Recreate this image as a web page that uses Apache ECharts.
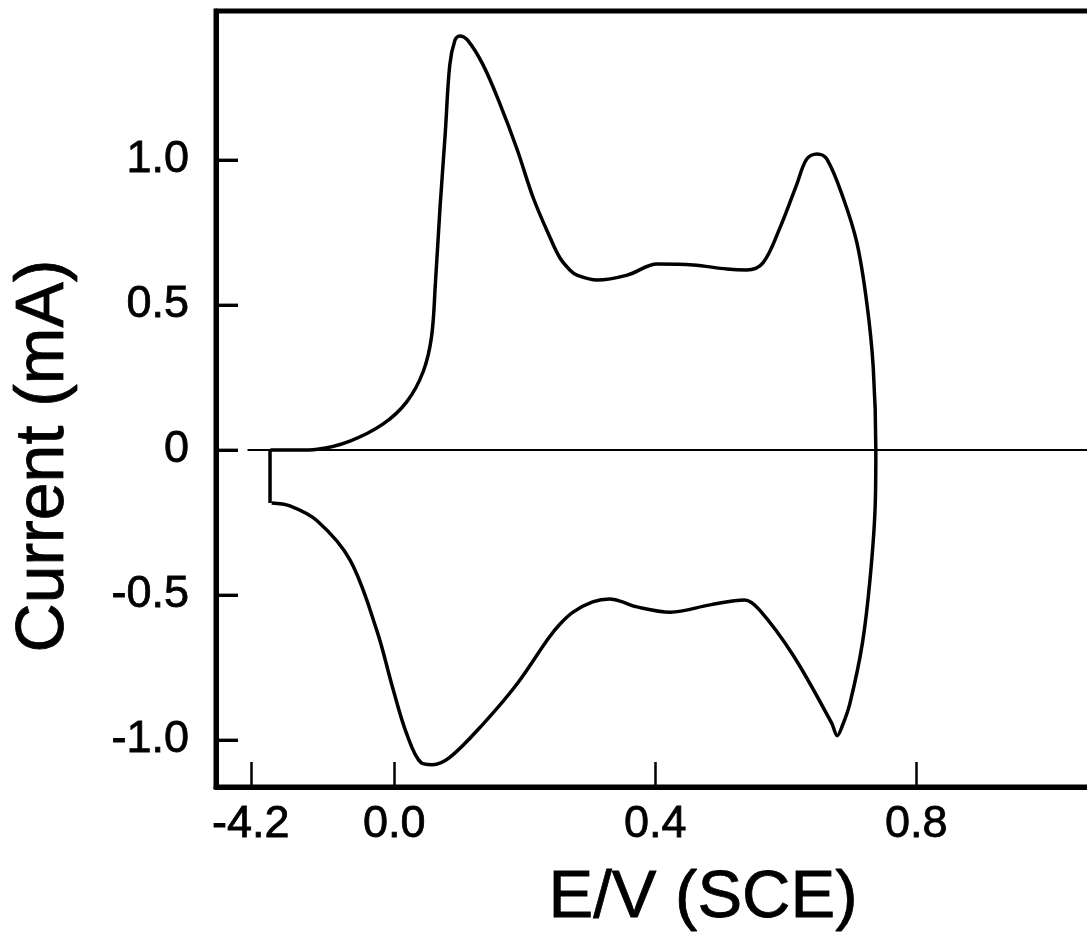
<!DOCTYPE html>
<html>
<head>
<meta charset="utf-8">
<script src="https://cdn.jsdelivr.net/npm/echarts@6/dist/echarts.min.js"></script>
<style>
  html, body { margin: 0; padding: 0; background: #ffffff; overflow: hidden; }
  #chart { width: 1087px; height: 943px; }
</style>
</head>
<body>
<div id="chart"></div>
<script>
// ---- data ----
const xTickValues = [-0.22, 0.0, 0.4, 0.8];
const xTickLabels = ['-4.2', '0.0', '0.4', '0.8'];
const yTickValues = [-1.0, -0.5, 0, 0.5, 1.0];
const yTickLabels = ['-1.0', '-0.5', '0', '0.5', '1.0'];

// anodic (forward) sweep: E (V) and current (mA)
const anodicE = [-0.190, -0.150, -0.118, -0.068, -0.017, 0.019, 0.044, 0.057, 0.063, 0.070, 0.078, 0.085, 0.093, 0.100, 0.112, 0.136, 0.162, 0.188, 0.213, 0.239, 0.254, 0.269, 0.280, 0.311, 0.357, 0.403, 0.458, 0.510, 0.540, 0.565, 0.591, 0.617, 0.632, 0.648, 0.663, 0.688, 0.709, 0.724, 0.734, 0.738];
const anodicI = [0.000, 0.000, 0.003, 0.031, 0.090, 0.166, 0.269, 0.390, 0.576, 0.834, 1.090, 1.328, 1.414, 1.428, 1.414, 1.328, 1.193, 1.038, 0.869, 0.731, 0.662, 0.621, 0.603, 0.586, 0.603, 0.641, 0.638, 0.624, 0.621, 0.645, 0.766, 0.917, 1.003, 1.021, 1.003, 0.869, 0.714, 0.510, 0.286, 0.000];

// cathodic (reverse) sweep
const cathodicE = [0.737, 0.729, 0.717, 0.698, 0.686, 0.679, 0.670, 0.611, 0.560, 0.537, 0.484, 0.423, 0.372, 0.346, 0.330, 0.304, 0.274, 0.254, 0.236, 0.188, 0.136, 0.085, 0.058, 0.041, 0.019, -0.002, -0.027, -0.068, -0.118, -0.160, -0.188];
const cathodicI = [-0.193, -0.448, -0.672, -0.876, -0.955, -0.985, -0.940, -0.707, -0.552, -0.517, -0.534, -0.559, -0.541, -0.521, -0.514, -0.524, -0.559, -0.600, -0.650, -0.807, -0.945, -1.060, -1.085, -1.078, -0.979, -0.824, -0.621, -0.379, -0.245, -0.193, -0.183];

// vertical step at the start potential
const stepE = [-0.1905, -0.1905];
const stepI = [-0.183, 0.000];

// zero-current reference line
const baseE = [-0.225, 1.10];
const baseI = [0, 0];

const xTitle = 'E/V (SCE)';
const yTitle = 'Current (mA)';

// ---- build ----
const pairs = (a, b) => a.map((v, i) => [v, b[i]]);
const loopData = pairs(anodicE, anodicI).concat(pairs(cathodicE, cathodicI));
const lookup = (vals, labels) => (val) => {
  const i = vals.findIndex(v => Math.abs(v - val) < 1e-6);
  return i >= 0 ? labels[i] : '';
};
const FONT = '"Liberation Sans", Arial, Helvetica, sans-serif';
const X_MIN = -0.2733, X_MAX = 1.0969;
const Y_MIN = -1.162, Y_MAX = 1.5138;

const chart = echarts.init(document.getElementById('chart'), null, { renderer: 'canvas' });
chart.setOption({
  animation: false,
  backgroundColor: '#ffffff',
  grid: {
    left: 216, top: 11, width: 894, height: 776,
    outerBoundsMode: 'none',
    show: true, borderColor: '#000000', borderWidth: 5
  },
  xAxis: {
    type: 'value', min: X_MIN, max: X_MAX, position: 'bottom',
    axisLine: { show: true, onZero: false, lineStyle: { color: '#000', width: 5 } },
    splitLine: { show: false },
    axisTick: { show: true, inside: true, length: 25, customValues: xTickValues,
      lineStyle: { color: '#000', width: 2.5 } },
    axisLabel: { show: true, customValues: xTickValues, formatter: lookup(xTickValues, xTickLabels),
      margin: 15, color: '#000', fontSize: 45, fontFamily: FONT,
      textBorderColor: '#000', textBorderWidth: 0.8 }
  },
  yAxis: {
    type: 'value', min: Y_MIN, max: Y_MAX, position: 'left',
    axisLine: { show: true, onZero: false, lineStyle: { color: '#000', width: 5 } },
    splitLine: { show: false },
    axisTick: { show: true, inside: true, length: 22, customValues: yTickValues,
      lineStyle: { color: '#000', width: 3 } },
    axisLabel: { show: true, customValues: yTickValues, formatter: lookup(yTickValues, yTickLabels),
      margin: 27, color: '#000', fontSize: 45, fontFamily: FONT,
      textBorderColor: '#000', textBorderWidth: 0.8 }
  },
  series: [
    { type: 'line', data: pairs(baseE, baseI), symbol: 'none', silent: true,
      lineStyle: { color: '#000', width: 2 } },
    { type: 'line', data: loopData, symbol: 'none', smooth: 0.35, silent: true,
      lineStyle: { color: '#000', width: 3.5 } },
    { type: 'line', data: pairs(stepE, stepI), symbol: 'none', silent: true,
      lineStyle: { color: '#000', width: 3.5 } },
    // inward y-axis tick marks, placed at the axis minimum through the library's scales
    { type: 'scatter', data: yTickValues.map(v => [X_MIN, v]), silent: true, clip: false, z: 10,
      symbol: 'rect', symbolSize: [22, 3], symbolOffset: [11, 0],
      itemStyle: { color: '#000' } }
  ],
  graphic: [
    { type: 'text', x: 44, y: 456, rotation: Math.PI / 2,
      style: { text: yTitle, fill: '#000', font: '68px ' + FONT, textAlign: 'center', textVerticalAlign: 'middle',
        stroke: '#000', lineWidth: 0.8 } },
    { type: 'text', x: 703, y: 899,
      style: { text: xTitle, fill: '#000', font: '67px ' + FONT, textAlign: 'center', textVerticalAlign: 'middle',
        stroke: '#000', lineWidth: 0.8 } }
  ]
});
</script>
</body>
</html>
